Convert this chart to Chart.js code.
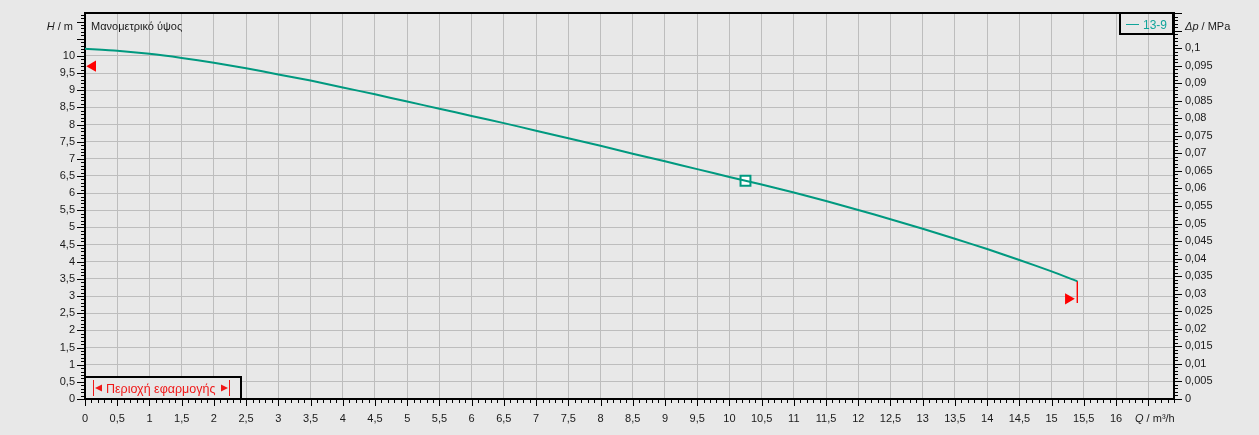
<!DOCTYPE html>
<html>
<head>
<meta charset="utf-8">
<script src="https://cdn.jsdelivr.net/npm/chart.js@4"></script>
<style>
  body{margin:0;background:#e8e8e8;}
  canvas{display:block;}
</style>
</head>
<body>
<canvas id="pumpChart" width="1259" height="435"></canvas>
<script>
// pump curve 13-9, Q in m3/h, H in m
var flowValues = [0,0.5,1,1.5,2,2.5,3,3.5,4,4.5,5,5.5,6,6.5,7,7.5,8,8.5,9,9.5,10,10.5,11,11.5,12,12.5,13,13.5,14,14.5,15,15.4];
var headValues = [10.21,10.15,10.06,9.94,9.80,9.64,9.46,9.28,9.08,8.88,8.67,8.46,8.25,8.04,7.82,7.60,7.38,7.15,6.93,6.70,6.47,6.25,6.02,5.77,5.51,5.24,4.96,4.67,4.37,4.05,3.72,3.43];
var dutyPoint = [10.25, 6.36];
var leftMark = [0.12, 9.7];
var rightMark = [15.26, 2.92];
var endDrop = [[15.4, 3.43], [15.4, 2.8]];

var FONT = "'Liberation Sans', Arial, sans-serif";
var TEAL = "#00997f";

function fmt(v){
  return String(parseFloat(v.toFixed(4))).replace(".", ",");
}

var curve = [];
for (var i = 0; i < flowValues.length; i++) curve.push({x: flowValues[i], y: headValues[i]});

function noPad(s){ s.paddingTop = 0; s.paddingBottom = 0; s.paddingLeft = 0; s.paddingRight = 0; }

var extras = {
  id: "extras",
  afterDraw: function(chart){
    var ctx = chart.ctx;
    var xs = chart.scales.x, ys = chart.scales.y, y2 = chart.scales.y2;
    var a = chart.chartArea;
    ctx.save();
    ctx.strokeStyle = "#000";
    ctx.lineWidth = 1;
    // left ticks
    for (var i = 0; i <= 112; i++){
      var py = Math.round(ys.getPixelForValue(i / 10)) + 0.5;
      var len = i % 5 === 0 ? 8 : 4;
      ctx.beginPath(); ctx.moveTo(a.left - len, py); ctx.lineTo(a.left, py); ctx.stroke();
    }
    // bottom ticks
    for (var j = 0; j <= 169; j++){
      var px = Math.round(xs.getPixelForValue(j / 10)) + 0.5;
      var l2 = j % 5 === 0 ? 7 : 4;
      ctx.beginPath(); ctx.moveTo(px, a.bottom); ctx.lineTo(px, a.bottom + l2); ctx.stroke();
    }
    // right ticks
    for (var k = 0; k <= 110; k++){
      var py2 = Math.round(y2.getPixelForValue(k / 1000)) + 0.5;
      var l3 = k % 5 === 0 ? 8 : 4;
      ctx.beginPath(); ctx.moveTo(a.right, py2); ctx.lineTo(a.right + l3, py2); ctx.stroke();
    }
    // top border
    ctx.lineWidth = 2;
    ctx.beginPath(); ctx.moveTo(a.left - 1, a.top); ctx.lineTo(a.right + 1, a.top); ctx.stroke();

    // axis titles
    ctx.fillStyle = "#1a1a1a";
    ctx.textBaseline = "alphabetic";
    ctx.font = "11px " + FONT;
    ctx.textAlign = "right";
    ctx.fillText(" / m", 73, 30);
    var w = ctx.measureText(" / m").width;
    ctx.font = "italic 11px " + FONT;
    ctx.fillText("H", 73 - w, 30);

    ctx.textAlign = "left";
    ctx.font = "italic 11px " + FONT;
    ctx.fillText("Δp", 1185, 30);
    var w2 = ctx.measureText("Δp").width;
    ctx.font = "11px " + FONT;
    ctx.fillText(" / MPa", 1185 + w2, 30);

    ctx.font = "italic 11px " + FONT;
    ctx.fillText("Q", 1135, 422);
    var w3 = ctx.measureText("Q").width;
    ctx.font = "11px " + FONT;
    ctx.fillText(" / m³/h", 1135 + w3, 422);

    ctx.fillText("Μανομετρικό ύψος", 91, 30);

    // legend box
    ctx.strokeStyle = "#000";
    ctx.lineWidth = 2;
    ctx.strokeRect(1120, a.top, 53, 21);
    ctx.strokeStyle = "#10a49a";
    ctx.lineWidth = 1;
    ctx.beginPath(); ctx.moveTo(1126, 24.5); ctx.lineTo(1139, 24.5); ctx.stroke();
    ctx.fillStyle = "#10a49a";
    ctx.font = "12px " + FONT;
    ctx.fillText("13-9", 1143, 29);

    // application range box
    ctx.fillStyle = "#e8e8e8";
    ctx.fillRect(86, 378, 154, 20);
    ctx.strokeStyle = "#000";
    ctx.lineWidth = 2;
    ctx.strokeRect(85, 377, 156, 22);
    ctx.strokeStyle = "#f01818";
    ctx.fillStyle = "#f01818";
    ctx.lineWidth = 1;
    ctx.beginPath(); ctx.moveTo(93.5, 380); ctx.lineTo(93.5, 396); ctx.stroke();
    ctx.beginPath(); ctx.moveTo(95, 388); ctx.lineTo(102, 384.5); ctx.lineTo(102, 391.5); ctx.closePath(); ctx.fill();
    ctx.beginPath(); ctx.moveTo(229.5, 380); ctx.lineTo(229.5, 396); ctx.stroke();
    ctx.beginPath(); ctx.moveTo(228, 388); ctx.lineTo(221, 384.5); ctx.lineTo(221, 391.5); ctx.closePath(); ctx.fill();
    ctx.font = "12.5px " + FONT;
    ctx.fillText("Περιοχή εφαρμογής", 106, 393);
    ctx.restore();
  }
};

new Chart(document.getElementById("pumpChart"), {
  type: "scatter",
  data: {
    datasets: [
      {data: curve, showLine: true, borderColor: TEAL, borderWidth: 2, pointRadius: 0, tension: 0.2},
      {data: [{x: dutyPoint[0], y: dutyPoint[1]}], pointStyle: "rect", pointRadius: 7, borderWidth: 2, borderColor: TEAL, backgroundColor: "#ffffff"},
      {data: [{x: endDrop[0][0], y: endDrop[0][1]}, {x: endDrop[1][0], y: endDrop[1][1]}], showLine: true, borderColor: "#ff0000", borderWidth: 1, pointRadius: 0},
      {data: [{x: leftMark[0], y: leftMark[1]}], pointStyle: "triangle", rotation: -90, pointRadius: 6.5, borderWidth: 0, backgroundColor: "#ff0000"},
      {data: [{x: rightMark[0], y: rightMark[1]}], pointStyle: "triangle", rotation: 90, pointRadius: 6.5, borderWidth: 0, backgroundColor: "#ff0000"}
    ]
  },
  options: {
    responsive: false,
    animation: false,
    devicePixelRatio: 1,
    layout: {padding: {top: 13, left: 0, right: 0, bottom: 0}},
    plugins: {legend: {display: false}, tooltip: {enabled: false}},
    scales: {
      x: {
        type: "linear", min: 0, max: 16.9,
        afterFit: function(s){ s.height = 36; noPad(s); },
        border: {color: "#000", width: 2},
        grid: {color: "#bdbdbd", lineWidth: 1, drawTicks: false},
        ticks: {stepSize: 0.5, includeBounds: false, padding: 13, maxRotation: 0, autoSkip: false,
          color: "#1a1a1a", font: {family: FONT, size: 11},
          callback: function(v){ return v > 16.01 ? "" : fmt(v); }}
      },
      y: {
        type: "linear", position: "left", min: 0, max: 11.25,
        afterFit: function(s){ s.width = 85; noPad(s); },
        border: {color: "#000", width: 2},
        grid: {drawTicks: false, lineWidth: 1,
          color: function(c){ return c.tick && c.tick.value > 10.01 ? "rgba(0,0,0,0)" : "#bdbdbd"; }},
        ticks: {stepSize: 0.5, includeBounds: false, padding: 10, autoSkip: false,
          color: "#1a1a1a", font: {family: FONT, size: 11},
          callback: function(v){ return v > 10.01 ? "" : fmt(v); }}
      },
      y2: {
        type: "linear", position: "right", min: 0, max: 0.11,
        afterFit: function(s){ s.width = 85; noPad(s); },
        border: {color: "#000", width: 2},
        grid: {display: false, drawTicks: false},
        ticks: {stepSize: 0.005, includeBounds: false, padding: 11, autoSkip: false,
          color: "#1a1a1a", font: {family: FONT, size: 11},
          callback: function(v){ return v > 0.1001 ? "" : fmt(v); }}
      }
    }
  },
  plugins: [extras]
});
</script>
</body>
</html>
